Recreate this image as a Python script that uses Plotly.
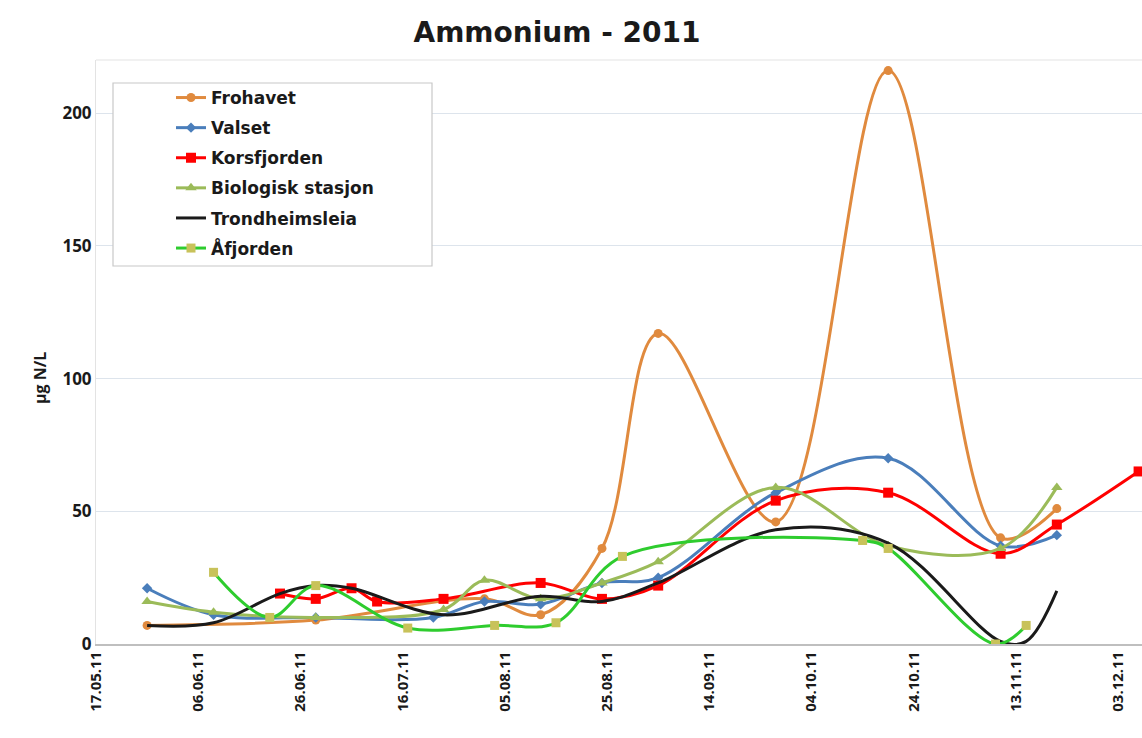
import plotly.graph_objects as go

# ---- data ----
frohavet_dates = ["2011-05-27", "2011-06-29", "2011-08-01", "2011-08-12", "2011-08-24",
                  "2011-09-04", "2011-09-27", "2011-10-19", "2011-11-10", "2011-11-21"]
frohavet_vals = [7, 9, 17, 11, 36, 117, 46, 216, 40, 51]

valset_dates = ["2011-05-27", "2011-06-09", "2011-06-29", "2011-07-22", "2011-08-01", "2011-08-12",
                "2011-08-24", "2011-09-04", "2011-09-27", "2011-10-19", "2011-11-10", "2011-11-21"]
valset_vals = [21, 11, 10, 10, 16, 15, 23, 25, 57, 70, 37, 41]

korsfjorden_dates = ["2011-06-22", "2011-06-29", "2011-07-06", "2011-07-11", "2011-07-24", "2011-08-12",
                     "2011-08-24", "2011-09-04", "2011-09-27", "2011-10-19", "2011-11-10", "2011-11-21",
                     "2011-12-07"]
korsfjorden_vals = [19, 17, 21, 16, 17, 23, 17, 22, 54, 57, 34, 45, 65]

biologisk_dates = ["2011-05-27", "2011-06-09", "2011-06-29", "2011-07-24", "2011-08-01", "2011-08-12",
                   "2011-08-24", "2011-09-04", "2011-09-27", "2011-10-19", "2011-11-10", "2011-11-21"]
biologisk_vals = [16, 12, 10, 13, 24, 17, 23, 31, 59, 37, 36, 59]

trondheim_dates = ["2011-05-27", "2011-06-09", "2011-06-22", "2011-06-29", "2011-07-06", "2011-07-24",
                   "2011-08-12", "2011-08-24", "2011-09-04", "2011-09-27", "2011-10-19", "2011-11-10",
                   "2011-11-15", "2011-11-21"]
trondheim_vals = [7, 8, 19, 22, 21, 11, 18, 16, 23, 43, 38, 1, 1, 20]

afjorden_dates = ["2011-06-09", "2011-06-20", "2011-06-29", "2011-07-17", "2011-08-03", "2011-08-15",
                  "2011-08-28", "2011-10-14", "2011-10-19", "2011-11-09", "2011-11-15"]
afjorden_vals = [27, 10, 22, 6, 7, 8, 33, 39, 36, 0, 7]

tick_dates = ["2011-05-17", "2011-06-06", "2011-06-26", "2011-07-16", "2011-08-05", "2011-08-25",
              "2011-09-14", "2011-10-04", "2011-10-24", "2011-11-13", "2011-12-03"]
tick_labels = ["17.05.11", "06.06.11", "26.06.11", "16.07.11", "05.08.11", "25.08.11",
               "14.09.11", "04.10.11", "24.10.11", "13.11.11", "03.12.11"]
y_ticks = [0, 50, 100, 150, 200]

FONT = "Open Sans"
WIDE = "DejaVu Sans"
W, H = 1142, 738
ML, MR, MT, MB = 96, 0, 60, 94
PW, PH = W - ML - MR, H - MT - MB

series = [
    ("Frohavet", frohavet_dates, frohavet_vals, "#E08A3E", dict(symbol="circle", size=9, color="#E08A3E")),
    ("Valset", valset_dates, valset_vals, "#4A7EBB", dict(symbol="diamond", size=8, color="#4A7EBB")),
    ("Korsfjorden", korsfjorden_dates, korsfjorden_vals, "#FF0000", dict(symbol="square", size=10, color="#FF0000")),
    ("Biologisk stasjon", biologisk_dates, biologisk_vals, "#9BBB59", dict(symbol="triangle-up", size=10, color="#9BBB59")),
    ("Trondheimsleia", trondheim_dates, trondheim_vals, "#1A1A1A", None),
    ("Åfjorden", afjorden_dates, afjorden_vals, "#2ECC2E", dict(symbol="square", size=9, color="#C8C25A")),
]

fig = go.Figure()
for i, (name, xs, ys, col, mk) in enumerate(series):
    fig.add_trace(go.Scatter(
        x=xs, y=ys, name=name,
        mode="lines+markers" if mk else "lines",
        line=dict(color=col, width=3, shape="spline", smoothing=1.0),
        marker=mk if mk else None,
        legendgroup=f"g{i}",
    ))

def px2paper_x(px):
    return (px - ML) / PW

def px2paper_y(py):
    return (H - MB - py) / PH

# legend frame
fig.add_shape(type="rect", xref="paper", yref="paper",
              x0=px2paper_x(113), x1=px2paper_x(432), y0=px2paper_y(266), y1=px2paper_y(83),
              line=dict(color="#c8c8c8", width=1.2), fillcolor="white", layer="above")
# faint top border of plot area
fig.add_shape(type="line", xref="paper", yref="paper", x0=0, x1=1, y0=1, y1=1,
              line=dict(color="#e3e3e3", width=1))

fig.add_annotation(text="<b>µg N/L</b>", xref="paper", yref="paper",
                   x=px2paper_x(40), y=px2paper_y(378), xanchor="center", yanchor="middle",
                   textangle=-90, showarrow=False,
                   font=dict(family=FONT, size=16, color="#1a1a1a"))

fig.update_layout(
    width=W, height=H,
    margin=dict(l=ML, r=MR, t=MT, b=MB, autoexpand=False),
    paper_bgcolor="white", plot_bgcolor="white",
    font=dict(family=FONT, color="#1a1a1a"),
    title=dict(text="<b>Ammonium - 2011</b>", x=557 / W, xanchor="center", xref="container",
               y=1 - 32 / H, yanchor="middle", yref="container",
               font=dict(family=WIDE, size=28, color="#1a1a1a")),
    showlegend=True,
    legend=dict(x=px2paper_x(171), y=px2paper_y(80), xanchor="left", yanchor="top",
                bgcolor="rgba(0,0,0,0)", borderwidth=0, tracegroupgap=5,
                font=dict(family=WIDE, size=17, color="#1a1a1a", weight="bold")),
    xaxis=dict(type="date", range=["2011-05-17", "2011-12-07 16:00"],
               tickvals=tick_dates, ticktext=tick_labels, tickangle=-90,
               tickfont=dict(family=FONT, size=15, color="#1a1a1a", weight="bold"),
               showgrid=False, showline=True, linecolor="#bfbfbf", linewidth=1.5,
               mirror=False, ticks="", zeroline=False),
    yaxis=dict(range=[0, 220], tickvals=y_ticks, showgrid=True, gridcolor="#dde4ec", gridwidth=1,
               tickfont=dict(family=FONT, size=17, color="#1a1a1a", weight="bold"),
               ticks="", zeroline=False, showline=True, linecolor="#e3e3e3", mirror=True),
)

fig.write_html("out.html", config={"displayModeBar": False},
               post_script="document.body.style.margin='0px';")
